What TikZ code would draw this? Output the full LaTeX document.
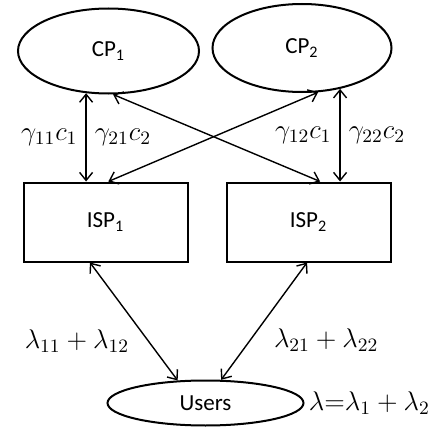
\RequirePackage{fix-cm}
\documentclass[tikz,border=0pt]{standalone}
\usepackage{fontspec}
\newfontfamily\calibri{Carlito}
\usetikzlibrary{shapes.geometric, arrows.meta, positioning}

\begin{document}
\begin{tikzpicture}[x=0.5pt, y=-0.5pt,
    provider/.style = {ellipse, draw, line width=1pt, inner sep=0pt, font=\calibri\fontsize{11.5}{13}\selectfont},
    isp/.style = {rectangle, draw, line width=1pt, minimum width=82pt, minimum height=39.5pt, font=\calibri\fontsize{11.5}{13}\selectfont},
    link/.style = {{Straight Barb[length=4pt,width=6.5pt]}-{Straight Barb[length=4pt,width=6.5pt]}, line width=0.7pt},
    lbl/.style = {inner sep=4pt, font=\fontsize{13.5}{16}\selectfont}]
    \useasboundingbox (0,0) rectangle (440,428);

    \node [provider, minimum width=90.5pt, minimum height=42.5pt] (cpone) at (108.5,51) {CP\textsubscript{1}};
    \node [provider, minimum width=89.5pt, minimum height=44pt] (cptwo) at (302,48) {CP\textsubscript{2}};
    \node [isp] (ispone) at (105.5,222) {ISP\textsubscript{1}};
    \node [isp] (isptwo) at (308.5,222) {ISP\textsubscript{2}};
    \node [provider, minimum width=98pt, minimum height=22.5pt] (users) at (205.5,403) {Users};
    \node [lbl, anchor=west, inner sep=2pt] (total) at (users.east) {$\lambda{=}\lambda_1+\lambda_2$};

    \draw[link] (cpone.242) -- (cpone.242 |- ispone.north)
        node [lbl, midway, left] {$\gamma_{11}c_1$}
        node [lbl, midway, right] {$\gamma_{21}c_2$};
    \draw[link] (cptwo.313) -- (cptwo.313 |- isptwo.north)
        node [lbl, midway, left] {$\gamma_{12}c_1$}
        node [lbl, midway, right] {$\gamma_{22}c_2$};
    \draw[link] (cpone.276) -- (isptwo.74);
    \draw[link] (cptwo.290) -- (ispone.86);
    \draw[link] (ispone.249) -- (users.141)
        node [lbl, pos=0.67, left=5.5pt] {$\lambda_{11}+\lambda_{12}$};
    \draw[link] (isptwo.268) -- (users.56)
        node [lbl, pos=0.66, right=7.5pt] {$\lambda_{21}+\lambda_{22}$};
\end{tikzpicture}
\end{document}
